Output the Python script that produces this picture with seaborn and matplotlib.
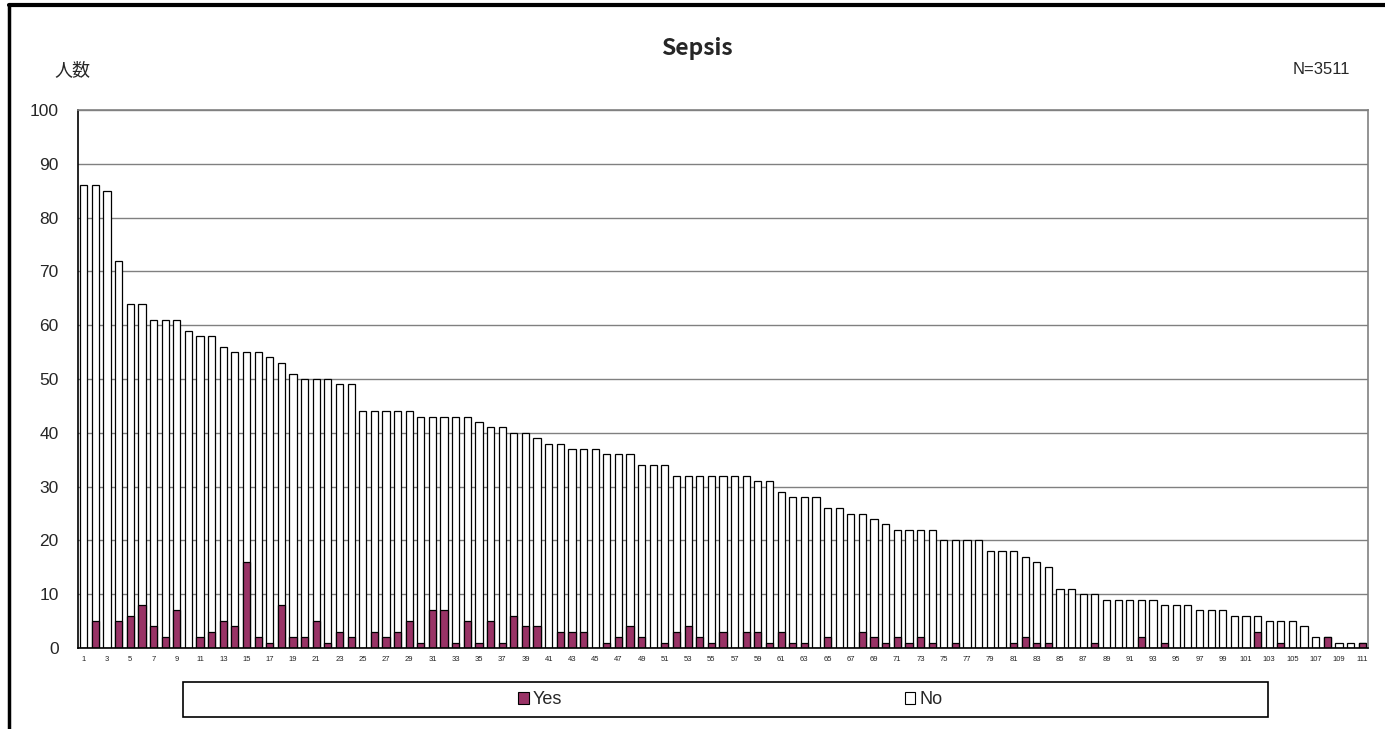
import matplotlib
matplotlib.use("Agg")
import matplotlib.pyplot as plt
from matplotlib.patches import Patch, Rectangle
from matplotlib.lines import Line2D
import seaborn as sns
import pandas as pd

# facility ids 1..111 (sorted by number of patients)
categories = [str(i) for i in range(1, 112)]

total_counts = [
    86, 86, 85, 72, 64, 64, 61, 61, 61, 59,
    58, 58, 56, 55, 55, 55, 54, 53, 51, 50,
    50, 50, 49, 49, 44, 44, 44, 44, 44, 43,
    43, 43, 43, 43, 42, 41, 41, 40, 40, 39,
    38, 38, 37, 37, 37, 36, 36, 36, 34, 34,
    34, 32, 32, 32, 32, 32, 32, 32, 31, 31,
    29, 28, 28, 28, 26, 26, 25, 25, 24, 23,
    22, 22, 22, 22, 20, 20, 20, 20, 18, 18,
    18, 17, 16, 15, 11, 11, 10, 10, 9, 9,
    9, 9, 9, 8, 8, 8, 7, 7, 7, 6,
    6, 6, 5, 5, 5, 4, 2, 2, 1, 1, 1,
]

yes_counts = [
    0, 5, 0, 5, 6, 8, 4, 2, 7, 0,
    2, 3, 5, 4, 16, 2, 1, 8, 2, 2,
    5, 1, 3, 2, 0, 3, 2, 3, 5, 1,
    7, 7, 1, 5, 1, 5, 1, 6, 4, 4,
    0, 3, 3, 3, 0, 1, 2, 4, 2, 0,
    1, 3, 4, 2, 1, 3, 0, 3, 3, 1,
    3, 1, 1, 0, 2, 0, 0, 3, 2, 1,
    2, 1, 2, 1, 0, 1, 0, 0, 0, 0,
    1, 2, 1, 1, 0, 0, 0, 1, 0, 0,
    0, 2, 0, 1, 0, 0, 0, 0, 0, 0,
    0, 3, 0, 1, 0, 0, 0, 2, 0, 0, 1,
]

yticks = list(range(0, 101, 10))

YES_COLOR = "#993366"
LABEL_FONT = ["Liberation Sans", "DejaVu Sans"]
CJK_FONT = ["Noto Sans CJK JP", "DejaVu Sans"]

df = pd.DataFrame({"id": categories, "total": total_counts, "yes": yes_counts})

sns.set_style("white")
plt.rcParams["font.family"] = LABEL_FONT

W, H = 1385, 729
fig = plt.figure(figsize=(W / 100, H / 100), dpi=100)
ax = fig.add_axes([78 / W, 1 - 648 / H, (1368 - 78) / W, (648 - 110) / H])

# stacked bars: white "No" part is the full total, "Yes" drawn over the bottom
sns.barplot(data=df, x="id", y="total", order=categories, color="white",
            saturation=1, edgecolor="black", linewidth=0.9, width=0.62, ax=ax)
sns.barplot(data=df, x="id", y="yes", order=categories, color=YES_COLOR,
            saturation=1, edgecolor="black", linewidth=0.9, width=0.62, ax=ax)

ax.set_xlim(-0.5, len(categories) - 0.5)
ax.set_ylim(0, 100)
ax.set_xlabel("")
ax.set_ylabel("")

ax.set_yticks(yticks)
ax.set_yticklabels([str(v) for v in yticks], fontsize=12.5)
ax.yaxis.grid(True, color="#808080", linewidth=1.0)
ax.set_axisbelow(True)
ax.tick_params(axis="y", direction="in", length=5, width=1, pad=14, color="black")

ax.set_xticks(range(0, len(categories), 2))
ax.set_xticklabels(categories[::2], fontsize=5.5, color="#222222")
ax.set_xticks([i + 0.5 for i in range(len(categories) - 1)], minor=True)
ax.tick_params(axis="x", which="major", length=0, pad=6)
ax.tick_params(axis="x", which="minor", direction="in", length=3, width=1, color="#808080")

for side in ["top", "right"]:
    ax.spines[side].set_visible(True)
    ax.spines[side].set_color("#808080")
    ax.spines[side].set_linewidth(1.2)
for side in ["left", "bottom"]:
    ax.spines[side].set_color("black")
    ax.spines[side].set_linewidth(1.2)

# titles and annotations
fig.text(697 / W, 1 - 49 / H, "Sepsis", ha="center", va="center", fontsize=16.5,
         family=CJK_FONT, fontweight="bold")
fig.text(54 / W, 1 - 70 / H, "人数", ha="left", va="center", fontsize=13,
         family=CJK_FONT)
fig.text(1350 / W, 1 - 70 / H, "N=3511", ha="right", va="center", fontsize=12)

# legend box
fig.add_artist(Rectangle((183 / W, 1 - 717 / H), (1268 - 183) / W, (717 - 682) / H,
                         transform=fig.transFigure, facecolor="white",
                         edgecolor="black", linewidth=1.2))
handles = [Patch(facecolor=YES_COLOR, edgecolor="black", linewidth=0.8, label="Yes"),
           Patch(facecolor="white", edgecolor="black", linewidth=0.8, label="No")]
fig.legend(handles=handles, loc="center", bbox_to_anchor=(730 / W, 1 - 700 / H),
           ncol=2, frameon=False, fontsize=13, handlelength=0.6, handleheight=0.6,
           handletextpad=0.2, columnspacing=19)

# outer chart frame (left and top edges visible)
fig.add_artist(Line2D([9 / W, 9 / W], [0, 1 - 5 / H], transform=fig.transFigure,
                      color="black", linewidth=2.5))
fig.add_artist(Line2D([9 / W, 1], [1 - 5 / H, 1 - 5 / H], transform=fig.transFigure,
                      color="black", linewidth=3))

fig.savefig("out.png", dpi=100)
plt.close(fig)
